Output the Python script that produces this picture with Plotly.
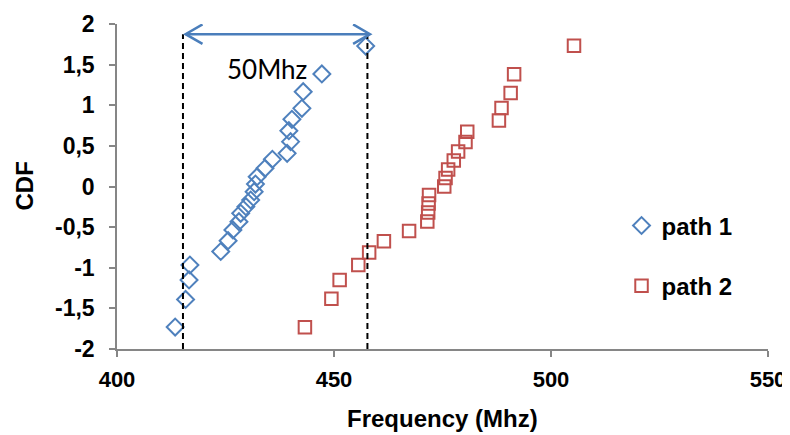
import plotly.graph_objects as go

# ---- data ----
path1_freq = [413.4, 415.8, 416.6, 416.8, 423.9, 425.6, 426.7, 428.1, 428.5, 429.7,
              430.8, 431.6, 431.9, 432.3, 434.1, 435.8, 439.2, 440.0, 439.6, 440.3,
              442.6, 442.9, 447.2, 457.3]
path1_cdf = [-1.73, -1.39, -1.15, -0.966, -0.80, -0.667, -0.535, -0.433, -0.33, -0.248,
             -0.166, -0.064, 0.03, 0.12, 0.224, 0.334, 0.408, 0.552, 0.687, 0.827,
             0.962, 1.167, 1.385, 1.729]

path2_freq = [443.3, 449.4, 451.3, 455.6, 458.1, 461.5, 467.3, 471.5, 471.7, 471.8,
              471.9, 475.4, 475.7, 476.3, 477.6, 478.6, 480.3, 480.7, 488.0, 488.6,
              490.7, 491.5, 505.3]
path2_cdf = [-1.732, -1.383, -1.150, -0.967, -0.812, -0.674, -0.549, -0.431, -0.319, -0.210,
             -0.105, 0.0, 0.105, 0.210, 0.319, 0.431, 0.549, 0.674, 0.812, 0.967,
             1.150, 1.383, 1.732]

x_ticks = [400, 450, 500, 550]
x_tick_labels = ["400", "450", "500", "550"]
y_ticks = [-2, -1.5, -1, -0.5, 0, 0.5, 1, 1.5, 2]
y_tick_labels = ["-2", "-1,5", "-1", "-0,5", "0", "0,5", "1", "1,5", "2"]

span_left = 415.2
span_right = 457.7
span_label = "50Mhz"
arrow_y = 1.875

BLUE = "#4F81BD"
RED = "#C0504D"
ARROW = "#4A7EBB"
AXIS = "#868686"
FONT = "Liberation Sans, Arial, sans-serif"

fig = go.Figure()
fig.add_trace(go.Scatter(
    x=path1_freq, y=path1_cdf, mode="markers", name="<b>path 1</b>", legendgroup="a",
    marker=dict(symbol="diamond-open", size=13, color=BLUE, line=dict(width=2, color=BLUE)),
))
fig.add_trace(go.Scatter(
    x=path2_freq, y=path2_cdf, mode="markers", name="<b>path 2</b>", legendgroup="b",
    marker=dict(symbol="square-open", size=12.5, color=RED, line=dict(width=2, color=RED)),
))

# dashed span lines
for xv in (span_left, span_right):
    fig.add_shape(type="line", xref="x", yref="y", x0=xv, x1=xv, y0=-2, y1=arrow_y,
                  line=dict(color="black", width=2, dash="6px,4px"))

# double arrow
xl = span_left + 0.6
xr = span_right + 0.6
hx = 3.9
hy = 0.12
fig.add_shape(type="line", xref="x", yref="y", x0=xl, x1=xr,
              y0=arrow_y, y1=arrow_y, line=dict(color=ARROW, width=2.5))
fig.add_shape(type="path", xref="x", yref="y",
              path=f"M {xl+hx},{arrow_y+hy} L {xl},{arrow_y} L {xl+hx},{arrow_y-hy}",
              line=dict(color=ARROW, width=2.5))
fig.add_shape(type="path", xref="x", yref="y",
              path=f"M {xr-hx},{arrow_y+hy} L {xr},{arrow_y} L {xr-hx},{arrow_y-hy}",
              line=dict(color=ARROW, width=2.5))

fig.add_annotation(x=(span_left + span_right) / 2 - 1.8, y=1.45, xref="x", yref="y",
                   text=span_label, showarrow=False,
                   font=dict(family="Lato, Open Sans, sans-serif", size=26, color="black"))

# axis titles
fig.add_annotation(x=0.5, y=0, xref="paper", yref="paper", yshift=-69, yanchor="middle",
                   text="<b>Frequency (Mhz)</b>", showarrow=False,
                   font=dict(family=FONT, size=24, color="black"))
fig.add_annotation(x=0, y=0.5, xref="paper", yref="paper", xshift=-93, xanchor="center",
                   yanchor="middle", textangle=-90,
                   text="<b>CDF</b>", showarrow=False,
                   font=dict(family=FONT, size=24, color="black"))

# the page body adds an 8px offset, so the figure is sized to the visible area
fig.update_layout(
    width=782, height=427,
    margin=dict(l=109, r=22, t=16, b=86),
    paper_bgcolor="white", plot_bgcolor="white",
    font=dict(family=FONT, color="black"),
    showlegend=True,
    legend=dict(x=0.775, y=0.448, xanchor="left", yanchor="top",
                font=dict(family=FONT, size=24, color="black"),
                tracegroupgap=26, bgcolor="rgba(0,0,0,0)", itemwidth=30),
)
fig.update_xaxes(
    range=[400, 550], tickvals=x_ticks, ticktext=[f"<b>{t}</b>" for t in x_tick_labels],
    showgrid=False, zeroline=False, automargin=False,
    showline=True, linecolor=AXIS, linewidth=1.5, ticks="outside", ticklen=6,
    tickcolor=AXIS, tickwidth=1.5, ticklabelstandoff=4,
    tickfont=dict(family=FONT, size=22, color="black"),
)
fig.update_yaxes(
    range=[-2, 2], tickvals=y_ticks, ticktext=[f"<b>{t}</b>" for t in y_tick_labels],
    showgrid=False, zeroline=False, automargin=False,
    showline=True, linecolor=AXIS, linewidth=1.5, ticks="outside", ticklen=6,
    tickcolor=AXIS, tickwidth=1.5, ticklabelstandoff=10,
    tickfont=dict(family=FONT, size=23, color="black"),
)
fig.write_html("out.html")
